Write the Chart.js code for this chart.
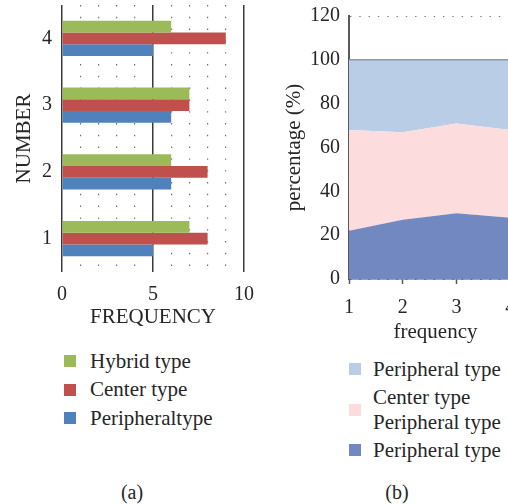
<!DOCTYPE html>
<html>
<head>
<meta charset="utf-8">
<script src="https://cdn.jsdelivr.net/npm/chart.js@4.4.1/dist/chart.umd.min.js"></script>
<style>
html, body { margin: 0; padding: 0; background: #fff; overflow: hidden; width: 508px; height: 504px; }
body { position: relative; font-family: "Liberation Serif", serif; color: #262626; }
canvas { position: absolute; }
#chartA { left: 0; top: 0; }
#chartB { left: 270px; top: 0; }
.legend { position: absolute; display: flex; flex-direction: column; gap: 3px; font-size: 21px; line-height: 25px; }
.legend .row { display: flex; align-items: center; }
.legend .sw { width: 12px; height: 12px; flex: none; }
.legend .tx { white-space: pre-line; }
#legendA { left: 64px; top: 348.5px; gap: 3.5px; }
#legendA .sw { margin-right: 14px; }
#legendB { left: 349px; top: 356.5px; }
#legendB .sw { margin-right: 12px; }
.cap { position: absolute; font-size: 20px; line-height: 24px; transform: translateX(-50%); }
</style>
</head>
<body>
<canvas id="chartA" width="258" height="330"></canvas>
<canvas id="chartB" width="252" height="347"></canvas>
<div class="legend" id="legendA"></div>
<div class="legend" id="legendB"></div>
<div class="cap" style="left:132px; top:480px;">(a)</div>
<div class="cap" style="left:397px; top:480px;">(b)</div>

<script>
/* ── (a) 유형별 빈도 ── */
const numberLabels   = ['1', '2', '3', '4'];
const hybridFreq     = [7, 6, 7, 6];
const centerFreq     = [8, 8, 7, 9];
const peripheralFreq = [5, 6, 6, 5];

/* ── (b) 비율 누적 영역 ── */
const freqPoints          = [1, 2, 3, 4];
const pctPeripheralLow    = [22, 27, 30, 28];
const pctCenterPeripheral = [46, 40, 41, 40];
const pctPeripheralHigh   = [32, 33, 29, 32];

const GREEN = '#9BBB59', RED = '#C0504D', BLUE = '#4F81BD';
const DARKBLUE = '#7189C0', PINK = '#FCDCDC', LIGHTBLUE = '#B9CDE7';

Chart.defaults.font.family = '"Liberation Serif", serif';
Chart.defaults.font.size = 20;
Chart.defaults.color = '#262626';

var titleFont = { size: 21 };

function isMajor(c) { return c.tick && c.tick.value % 5 === 0; }

// 라벨 여백 자동 계산 끄기 — 플롯 영역은 layout.padding 으로만 정한다
function noEdgePad(s) {
	s.paddingTop = 0; s.paddingBottom = 0; s.paddingLeft = 0; s.paddingRight = 0;
}

var barSets = [
	{ label: 'Hybrid type',    data: hybridFreq,     backgroundColor: GREEN },
	{ label: 'Center type',    data: centerFreq,     backgroundColor: RED },
	{ label: 'Peripheraltype', data: peripheralFreq, backgroundColor: BLUE }
];

new Chart(document.getElementById('chartA'), {
	type: 'bar',
	data: { labels: numberLabels, datasets: barSets },
	options: {
		indexAxis: 'y',
		responsive: false,
		animation: false,
		devicePixelRatio: 1,
		datasets: { bar: { categoryPercentage: 0.53, barPercentage: 1 } },
		layout: { padding: { top: 5, right: 14, bottom: 0, left: 0 } },
		plugins: { legend: { display: false }, tooltip: { enabled: false } },
		scales: {
			x: {
				type: 'linear', min: 0, max: 10,
				ticks: { stepSize: 1, padding: 10.5, autoSkip: false, maxRotation: 0,
					callback: function(v) { return v % 5 === 0 ? v : ''; } },
				grid: {
					drawTicks: false,
					color: function(c) { return isMajor(c) ? '#3a3a3a' : '#6e6e6e'; },
					lineWidth: function(c) { return isMajor(c) ? 1.5 : 1.2; }
				},
				border: { display: false, dash: function(c) { return (c.tick && !isMajor(c)) ? [1.4, 10.4] : []; } },
				title: { display: true, text: 'FREQUENCY', font: titleFont, padding: { top: 0, bottom: 0 } },
				afterFit: function(s) { s.height = 58; noEdgePad(s); }
			},
			y: {
				type: 'category', reverse: true,
				grid: { display: false, drawTicks: false },
				border: { display: false },
				ticks: { padding: 10 },
				title: { display: true, text: 'NUMBER', font: titleFont, padding: { top: 11.4, bottom: 0 } },
				afterFit: function(s) { s.width = 62; noEdgePad(s); }
			}
		}
	}
});

function toXY(vals) {
	return vals.map(function(v, i) { return { x: freqPoints[i], y: v }; });
}

var areaSets = [
	{ label: 'Peripheral type', data: toXY(pctPeripheralLow), fill: 'origin',
	  backgroundColor: DARKBLUE, borderColor: 'rgba(0,0,0,0)', borderWidth: 1 },
	{ label: 'Center type\nPeripheral type', data: toXY(pctCenterPeripheral), fill: '-1',
	  backgroundColor: PINK, borderColor: 'rgba(0,0,0,0)', borderWidth: 1 },
	{ label: 'Peripheral type', data: toXY(pctPeripheralHigh), fill: '-1',
	  backgroundColor: LIGHTBLUE, borderColor: '#8d97ab', borderWidth: 1.5 }
];

new Chart(document.getElementById('chartB'), {
	type: 'line',
	data: { datasets: areaSets },
	options: {
		responsive: false,
		animation: false,
		devicePixelRatio: 1,
		elements: { point: { radius: 0 }, line: { tension: 0 } },
		layout: { padding: { top: 16, right: 0, bottom: 0, left: 0 } },
		plugins: { legend: { display: false }, tooltip: { enabled: false } },
		scales: {
			x: {
				type: 'linear', min: 1, max: 4.22,
				afterBuildTicks: function(s) { s.ticks = freqPoints.map(function(v) { return { value: v }; }); },
				ticks: { padding: 12, autoSkip: false, maxRotation: 0 },
				grid: { drawOnChartArea: false, drawTicks: true, tickLength: 5, tickColor: '#555', tickWidth: 1.5 },
				border: { color: '#3f4a60', width: 1.5 },
				title: { display: true, text: 'frequency', font: titleFont, padding: { top: 0, bottom: 1.5 } },
				afterFit: function(s) { s.height = 68; noEdgePad(s); }
			},
			y: {
				stacked: true, min: 0, max: 120,
				ticks: { stepSize: 20, padding: 9 },
				grid: { drawTicks: false, color: '#7a7a7a', lineWidth: 1 },
				border: { color: '#595959', width: 2, dash: [1.4, 7.9] },
				title: { display: true, text: 'percentage (%)', font: titleFont, padding: { top: 12, bottom: 0 } },
				afterFit: function(s) { s.width = 79; noEdgePad(s); }
			}
		}
	}
});

/* ── 범례 ── */
function renderLegend(id, items) {
	var html = '';
	items.forEach(function(it) {
		html += '<div class="row"><span class="sw" style="background:' + it.backgroundColor + '"></span>'
			+ '<span class="tx">' + it.label + '</span></div>';
	});
	document.getElementById(id).innerHTML = html;
}
renderLegend('legendA', barSets);
renderLegend('legendB', areaSets.slice().reverse());
</script>
</body>
</html>
